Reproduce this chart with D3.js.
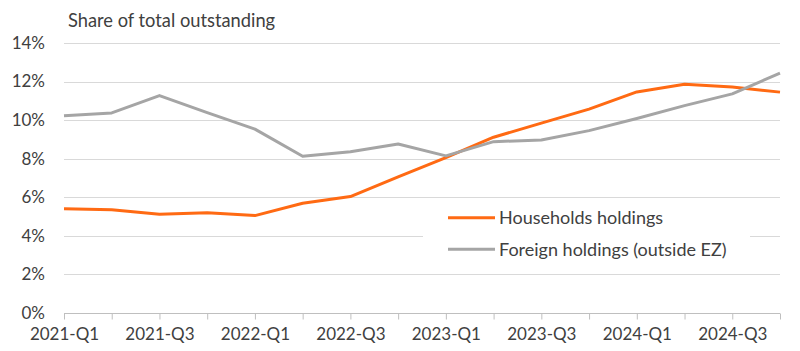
<!DOCTYPE html>
<html>

<head>
	<meta charset="utf-8">
	<script src="https://cdn.jsdelivr.net/npm/d3@7"></script>
	<style>
		body {
			margin: 0;
			background: #fff;
		}

		text {
			font-family: Lato, "Open Sans", sans-serif;
			fill: #404040;
		}
	</style>
</head>

<body>
	<svg></svg>
	<script>
		var quarters = ["2021-Q1", "2021-Q2", "2021-Q3", "2021-Q4",
			"2022-Q1", "2022-Q2", "2022-Q3", "2022-Q4",
			"2023-Q1", "2023-Q2", "2023-Q3", "2023-Q4",
			"2024-Q1", "2024-Q2", "2024-Q3", "2024-Q4"];
		var households = [5.39, 5.34, 5.11, 5.19, 5.04, 5.68, 6.03, 7.05,
			8.05, 9.11, 9.84, 10.57, 11.46, 11.86, 11.71, 11.45];
		var foreign = [10.22, 10.37, 11.27, 10.39, 9.53, 8.12, 8.35, 8.76,
			8.14, 8.88, 8.96, 9.45, 10.08, 10.75, 11.36, 12.44];
		var yTicks = [0, 2, 4, 6, 8, 10, 12, 14];
		var seriesNames = ["Households holdings", "Foreign holdings (outside EZ)"];
		var colors = ["#ff6a13", "#a5a5a5"];

		var width = 800;
		var height = 351;
		var margins = { left: 64, right: 20, top: 43, bottom: 38 };

		var svg = d3.select('svg')
			.attr("width", width)
			.attr("height", height);

		var x = d3.scalePoint()
			.domain(quarters)
			.range([margins.left, 780]);
		var y = d3.scaleLinear()
			.domain([0, 14])
			.range([312.7, margins.top]);

		// gridlines
		svg.append("g")
			.selectAll("line")
			.data(yTicks.filter(d => d > 0))
			.enter()
			.append("line")
			.attr("x1", margins.left)
			.attr("x2", 780)
			.attr("y1", d => Math.round(y(d)) + 0.5)
			.attr("y2", d => Math.round(y(d)) + 0.5)
			.attr("stroke", "#d9d9d9")
			.attr("stroke-width", 1);

		// y labels
		svg.append("g")
			.selectAll("text")
			.data(yTicks)
			.enter()
			.append("text")
			.attr("x", 45)
			.attr("y", d => y(d))
			.attr("dy", "0.35em")
			.attr("text-anchor", "end")
			.attr("font-size", 17)
			.text(d => d + "%");

		// x axis
		var xAxis = svg.append("g")
			.attr("transform", "translate(0," + (Math.round(y(0)) + 0.5) + ")")
			.call(d3.axisBottom(x).tickSize(6).tickPadding(8)
				.tickFormat((d, i) => i % 2 == 0 ? d : ""));
		xAxis.select(".domain").attr("stroke", "#bfbfbf").attr("d", "M" + margins.left + ",0H780");
		xAxis.selectAll(".tick line").attr("stroke", "#bfbfbf");
		xAxis.selectAll(".tick text")
			.attr("font-size", 17)
			.attr("font-family", "Lato, sans-serif")
			.attr("fill", "#404040");

		// legend background
		svg.append("rect")
			.attr("x", 423)
			.attr("y", 200)
			.attr("width", 327)
			.attr("height", 68)
			.attr("fill", "#fff");

		var line = d3.line()
			.x((d, i) => x(quarters[i]))
			.y(d => y(d));

		[households, foreign].forEach((s, k) => {
			svg.append("path")
				.datum(s)
				.attr("fill", "none")
				.attr("stroke", colors[k])
				.attr("stroke-width", 3)
				.attr("stroke-linejoin", "round")
				.attr("d", line);
		});

		var legend = svg.append("g");
		seriesNames.forEach((name, k) => {
			var ly = 217.7 + k * 31.6;
			legend.append("line")
				.attr("x1", 448)
				.attr("x2", 495)
				.attr("y1", ly)
				.attr("y2", ly)
				.attr("stroke", colors[k])
				.attr("stroke-width", 3);
			legend.append("text")
				.attr("x", 499)
				.attr("y", ly)
				.attr("dy", "0.35em")
				.attr("font-size", 18)
				.text(name);
		});

		svg.append("text")
			.attr("x", 68)
			.attr("y", 27)
			.attr("font-size", 18.3)
			.text("Share of total outstanding");
	</script>
</body>

</html>
